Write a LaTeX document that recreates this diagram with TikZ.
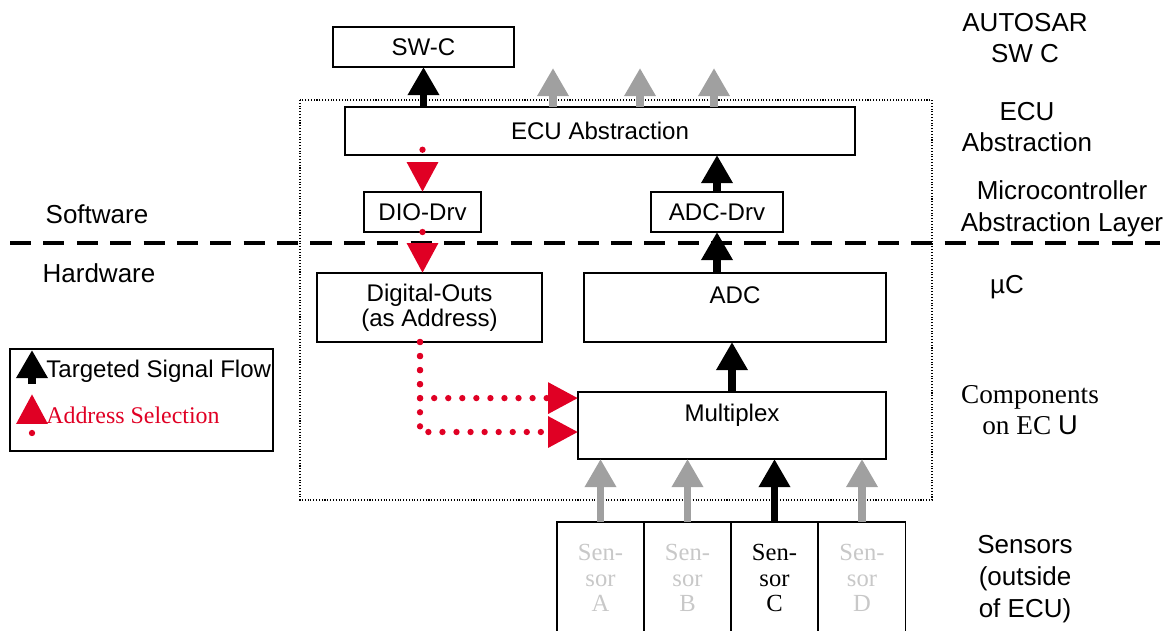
\documentclass[tikz,border=0pt]{standalone}
\usepackage{fontspec}
\setmainfont{Liberation Sans}
\newfontfamily\timesfont{Liberation Serif}
\usepackage{xcolor}
\usetikzlibrary{arrows.meta}
\definecolor{sigred}{RGB}{224,0,36}
\definecolor{siggray}{RGB}{160,160,160}
\definecolor{sentxt}{RGB}{200,200,200}

\begin{document}
\begin{tikzpicture}[x=.02cm,y=-.02cm,font=\fontsize{13.7}{14.5}\selectfont,
    blk/.style={draw,line width=.8pt,inner sep=0pt,outer sep=0pt,align=center},
    sensor/.style={blk,minimum width=1.74cm,minimum height=2.24cm,font=\timesfont\fontsize{14}{14.7}\selectfont},
    flow/.style={line width=4.5pt,-{Triangle[length=16pt,width=17pt]}},
    addr/.style={draw=sigred,line width=3.6pt,line cap=round,dash pattern=on 0pt off 8pt,-{Triangle[length=17pt,width=17pt]}},
    lbl/.style={align=center,font=\fontsize{14.8}{18}\selectfont}]
    \useasboundingbox (0,0) rectangle (1168,630);
    \clip (0,0) rectangle (1168,630);
    \draw[densely dotted,line width=.6pt] (300,100) rectangle (932,500);
    \draw[line width=2.3pt,dash pattern=on 12pt off 7pt] (10,243) -- (1160,243);
    \node[blk,minimum width=3.62cm,minimum height=.8cm] (swc) at (423.5,47) {SW-C};
    \node[blk,minimum width=10.2cm,minimum height=.96cm] (ecu) at (600,131) {ECU Abstraction};
    \node[blk,minimum width=2.34cm,minimum height=.8cm] (dio) at (422.5,212) {DIO-Drv};
    \node[blk,minimum width=2.64cm,minimum height=.8cm] (adcdrv) at (717,212) {ADC-Drv};
    \node[blk,minimum width=4.5cm,minimum height=1.38cm] (dout) at (429.5,307.5) {Digital-Outs\\(as Address)};
    \node[blk,minimum width=6.04cm,minimum height=1.38cm] (adc) at (735,307.5) {ADC\\~};
    \node[blk,minimum width=6.16cm,minimum height=1.34cm] (mux) at (732,425.5) {Multiplex\\~};
    \foreach \s/\cx/\tc/\ac in {A/600.5/sentxt/siggray,B/687.5/sentxt/siggray,C/774.5/black/black,D/862/sentxt/siggray}{
      \node[sensor,text=\tc] (sen\s) at (\cx,578) {Sen-\\sor\\\s};
      \draw[flow,draw=\ac] (sen\s.north) -- (sen\s.north |- mux.south);
    }
    \draw[flow] (swc.south |- ecu.north) -- (swc.south);
    \foreach \gx [count=\i] in {553,640,714}{
      \coordinate (up\i) at (\gx,68);
      \draw[flow,draw=siggray] (up\i |- ecu.north) -- (up\i);
    }
    \draw[flow] (adcdrv.north) -- (adcdrv.north |- ecu.south);
    \draw[flow] (adcdrv.south |- adc.north) -- (adcdrv.south);
    \draw[flow] (mux.north) -- (mux.north |- adc.south);
    \draw[addr] ([yshift=3pt]dio.north |- ecu.south) -- (dio.north);
    \draw[addr] (dio.south) -- (dio.south |- dout.north);
    \coordinate (dj) at ([xshift=-5.4pt]dout.south);
    \draw[addr] (dj) |- ([yshift=15.6pt]mux.west);
    \draw[addr] (dj) |- ([yshift=-3.7pt]mux.west);
    \node[blk,minimum width=5.26cm,minimum height=2.04cm] (legend) at (141.5,400) {};
    \coordinate (la0) at (32,384);
    \coordinate (la1) at (32,350);
    \draw[flow] (la0) -- (la1);
    \coordinate (lb0) at (32,433);
    \coordinate (lb1) at (32,394);
    \draw[addr] (lb0) -- (lb1);
    \node[anchor=west,inner sep=0pt,font=\fontsize{13.7}{14}\selectfont] (lsig) at (46,371) {Targeted Signal Flow};
    \node[anchor=west,inner sep=0pt,text=sigred,font=\timesfont\fontsize{13.6}{14}\selectfont] (laddr) at (46,415) {Address Selection};
    \node[lbl] (lsw) at (97,214) {Software};
    \node[lbl] (lhw) at (99,273) {Hardware};
    \node[lbl] (lauto) at (1025,38) {AUTOSAR\\SW C};
    \node[lbl] (lecu) at (1027,127) {ECU\\Abstraction};
    \node[lbl] (lmcal) at (1062,209) {Microcontroller\\Abstraction Layer};
    \node[lbl] (luc) at (1007,287) {µC};
    \node[lbl,font=\timesfont\fontsize{15.5}{18}\selectfont] (lcomp) at (1030,410) {Components\\on EC {\normalfont U}};
    \node[lbl] (lsens) at (1025,579) {Sensors\\(outside\\of ECU)};
  \end{tikzpicture}
\end{document}
